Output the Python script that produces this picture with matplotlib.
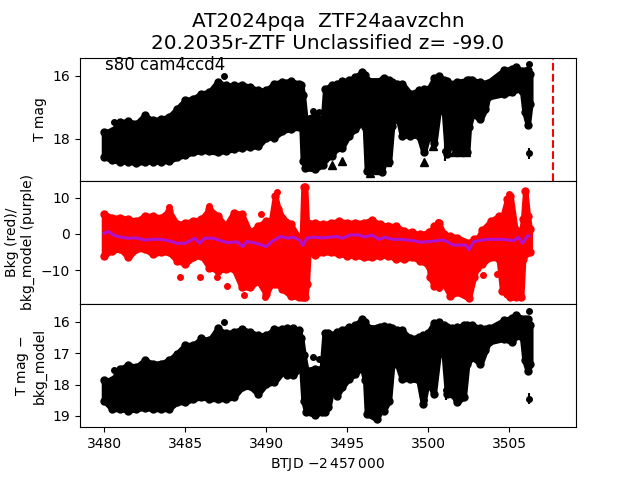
"""Three-panel TESS light curve summary for AT2024pqa."""

import matplotlib

matplotlib.use("Agg")

import matplotlib.pyplot as plt

MAG_DAYS = [3480.0, 3480.5, 3481.0, 3481.5, 3482.0, 3482.5, 3483.0, 3483.5, 3484.0, 3484.5,
            3485.0, 3485.5, 3486.0, 3486.5, 3487.0, 3487.5, 3488.0, 3488.5, 3489.0, 3489.5,
            3490.0, 3490.5, 3491.0, 3491.5,
            3492.0, 3492.16, 3492.26, 3492.41, 3493.0, 3493.5, 3493.64, 3494.05, 3494.36, 3494.67,
            3495.08, 3495.49, 3495.9, 3496.09, 3496.21, 3497.14, 3497.28, 3497.57, 3497.76, 3498.07,
            3498.37, 3498.88, 3499.4, 3499.71, 3500.02, 3500.37, 3500.63, 3500.95, 3501.15, 3501.36,
            3501.77, 3502.39, 3502.49, 3502.7, 3503.21, 3503.52, 3503.66, 3504.65, 3505.16, 3505.39,
            3505.78, 3505.93, 3506.13, 3506.28]
T_BRIGHT = [17.79, 17.74, 17.47, 17.45, 17.52, 17.26, 17.42, 17.37, 17.31, 17.05,
            16.78, 16.73, 16.57, 16.52, 16.20, 16.31, 16.31, 16.29, 16.36, 16.47,
            16.47, 16.25, 16.20, 16.18,
            16.25, 16.31, 16.62, 17.37, 17.26, 17.42, 16.41, 16.31, 16.25, 16.18,
            16.15, 16.04, 15.90, 15.99, 16.15, 16.15, 16.07, 16.15, 16.20, 16.25,
            16.25, 16.57, 16.47, 16.41, 16.41, 16.09, 16.01, 16.15, 16.18, 16.25,
            16.20, 16.15, 16.15, 16.15, 16.20, 16.25, 16.22, 15.83, 15.78, 15.72,
            15.87, 15.87, 15.83, 15.95]
T_FAINT = [18.57, 18.68, 18.72, 18.72, 18.77, 18.72, 18.73, 18.72, 18.70, 18.59,
           18.51, 18.43, 18.38, 18.40, 18.43, 18.38, 18.33, 18.28, 18.25, 18.24,
           17.96, 17.96, 17.75, 17.69,
           17.64, 17.38, 18.70, 18.93, 18.96, 18.83, 18.65, 18.54, 18.28, 18.28,
           17.90, 17.69, 17.48, 17.64, 19.02, 19.04, 18.70, 18.75, 17.58, 17.22,
           17.90, 17.90, 17.90, 18.43, 17.85, 18.12, 17.11, 17.06, 18.49, 18.17,
           18.43, 18.43, 17.64, 17.22, 17.38, 17.06, 16.69, 16.58, 16.53, 16.42,
           16.48, 17.16, 17.55, 16.90]
T_POINT_DAYS = [3480.6, 3487.37, 3492.86, 3493.23, 3499.7, 3499.8, 3500.3, 3501.05, 3502.0, 3506.2, 3506.2]
T_POINT_MAGS = [17.48, 16.00, 17.13, 17.16, 18.30, 17.95, 18.00, 18.40, 18.15, 15.62, 18.46]
T_POINT_ERRS = [0.05, 0.05, 0.05, 0.05, 0.25, 0.20, 0.25, 0.30, 0.25, 0.05, 0.17]
LIMIT_DAYS = [3494.05, 3494.67, 3496.4, 3496.87, 3497.45, 3499.7, 3500.3, 3501.6, 3501.95, 3502.3]
LIMIT_MAGS = [18.83, 18.69, 19.07, 19.00, 18.72, 18.72, 18.22, 18.42, 18.42, 18.42]

BKG_DAYS = [3480.0, 3480.5, 3481.0, 3481.5, 3482.0, 3482.5, 3483.0, 3483.5, 3484.0, 3484.5,
            3485.0, 3485.5, 3486.0, 3486.5, 3487.0, 3487.5, 3488.0, 3488.5, 3489.0, 3489.5,
            3490.0, 3490.3, 3490.55, 3490.75, 3491.0, 3491.5, 3492.0, 3492.2, 3492.3, 3492.4,
            3492.5, 3492.6, 3493.0, 3493.5,
            3494.0, 3494.5, 3495.0, 3495.5, 3496.0, 3496.5, 3497.0, 3497.5, 3498.0, 3498.5,
            3499.0, 3499.5, 3500.02, 3500.12, 3500.33, 3500.64, 3500.95, 3501.36, 3501.77, 3502.49,
            3502.8, 3503.0, 3503.31, 3503.83, 3504.34, 3504.55, 3504.86, 3505.06, 3505.37, 3505.72,
            3505.84, 3505.97, 3506.13, 3506.25]
BKG_HIGH = [5.5, 4.5, 4.5, 4.1, 3.6, 5.0, 5.0, 4.5, 6.4, 2.7,
            3.1, 3.6, 4.1, 6.9, 5.0, 2.2, 5.9, 5.5, 0.4, 2.2,
            3.6, 3.6, 10.6, 7.0, 4.5, 2.7, -1.0, -1.0, 12.9, 12.9,
            3.1, 3.1, 3.1, 2.7,
            3.1, 3.6, 3.1, 3.1, 3.1, 3.9, 2.7, 2.2, 2.2, 0.8,
            0.4, -0.1, 0.4, 0.4, 2.2, 3.1, -0.1, -0.5, -1.0, -2.4,
            -1.5, -1.5, 1.0, 3.5, 5.0, 4.5, 9.6, 10.6, 1.0, 0.4,
            4.0, 11.8, 5.0, 1.3]
BKG_LOW = [-6.0, -4.6, -4.2, -6.5, -4.2, -4.2, -5.6, -5.1, -5.1, -7.4,
           -8.3, -6.5, -6.0, -9.3, -10.2, -9.7, -9.7, -14.8, -14.8, -13.0,
           -16.7, -14.0, -14.0, -14.0, -15.3, -17.1, -17.6, -17.6, -17.6, -17.6,
           -14.0, -5.1, -5.7, -5.1,
           -5.1, -5.6, -6.0, -6.0, -6.5, -6.5, -6.0, -6.0, -6.9, -6.9,
           -6.5, -7.4, -8.8, -12.0, -14.3, -14.3, -13.9, -17.1, -16.2, -17.8,
           -12.0, -9.3, -8.3, -6.5, -6.9, -15.7, -16.7, -17.6, -17.6, -17.6,
           -7.0, -5.6, -5.1, -5.1]
BKG_POINT_DAYS = [3484.7, 3485.9, 3486.95, 3487.6, 3484.0, 3486.45, 3489.7, 3490.65,
                  3488.65, 3489.9, 3500.6, 3500.65, 3503.35, 3504.2, 3505.0, 3505.95]
BKG_POINT_VALUES = [-12.0, -11.8, -11.8, -14.3, 7.4, 7.8, 5.6, 11.5,
                    -16.8, -17.4, 3.3, -15.1, -11.4, -11.2, 11.1, 11.8]

MODEL_DAYS = [3480.0, 3480.27, 3480.58, 3481.0, 3481.5, 3482.0, 3482.5, 3483.0, 3483.5, 3484.0,
              3484.5, 3485.0, 3485.6, 3485.9, 3486.2, 3486.75, 3487.2, 3487.6, 3488.2, 3488.55,
              3488.8, 3489.4, 3490.0, 3490.35, 3490.9, 3491.3, 3491.7, 3492.1, 3492.25, 3492.5,
              3492.9, 3493.5, 3494.35, 3494.67, 3495.2, 3495.7, 3496.1, 3496.5, 3496.95, 3497.35,
              3497.75, 3498.3, 3499.1, 3499.5, 3500.1, 3500.95, 3501.55, 3502.3, 3502.5, 3502.8,
              3503.6, 3504.65, 3505.25, 3505.55, 3505.8, 3506.1, 3506.2]
MODEL_VALUES = [0.2, 0.65, -0.3, -0.9, -1.2, -1.1, -1.7, -1.5, -1.5, -1.9,
                -2.6, -2.6, -1.2, -2.6, -1.2, -1.2, -1.9, -2.4, -2.2, -3.5,
                -2.1, -2.6, -3.5, -2.1, -0.7, -1.2, -0.9, -1.9, -3.2, -1.2,
                -0.9, -1.1, -0.7, -1.2, -0.3, -0.3, -0.9, -0.3, -1.5, -0.9,
                -1.5, -1.5, -1.9, -2.3, -2.1, -1.7, -3.1, -3.1, -4.4, -2.1,
                -1.5, -1.5, -1.9, -0.9, -2.6, -0.6, -0.5]

SUB_DAYS = [3480.0, 3480.5, 3481.0, 3481.5, 3482.0, 3482.5, 3483.0, 3483.5, 3484.0, 3484.5,
            3485.0, 3485.5, 3486.0, 3486.5, 3487.0, 3487.5, 3488.0, 3488.5, 3489.0, 3489.5,
            3490.0, 3490.5, 3491.0, 3491.3,
            3491.68, 3492.0, 3492.16, 3492.3, 3492.47, 3493.0, 3493.43, 3493.6, 3493.84, 3494.05,
            3494.36, 3494.67, 3495.08, 3495.49, 3495.9, 3496.11, 3496.21, 3496.83, 3497.04, 3497.24,
            3497.57, 3497.76, 3498.07, 3498.37, 3498.88, 3499.4, 3499.67, 3499.96, 3500.33, 3500.63,
            3500.95, 3501.15, 3501.46, 3501.77, 3502.18, 3502.39, 3502.7, 3503.21, 3503.52, 3503.72,
            3504.65, 3505.16, 3505.39, 3505.78, 3505.93, 3506.13, 3506.28]
SUB_BRIGHT = [17.86, 17.86, 17.49, 17.38, 17.44, 17.22, 17.33, 17.33, 17.22, 17.01,
              16.74, 16.74, 16.53, 16.59, 16.21, 16.37, 16.32, 16.23, 16.32, 16.43,
              16.43, 16.23, 16.23, 16.20,
              16.21, 16.27, 16.53, 17.06, 17.54, 17.49, 17.49, 16.37, 16.37, 16.43,
              16.32, 16.27, 16.16, 16.11, 15.91, 16.00, 16.16, 16.19, 16.16, 16.13,
              16.16, 16.21, 16.27, 16.27, 16.53, 16.48, 16.43, 16.37, 16.05, 16.00,
              16.11, 16.16, 16.21, 16.16, 16.11, 16.09, 16.11, 16.21, 16.23, 16.21,
              15.95, 15.87, 15.77, 15.90, 15.90, 15.90, 16.10]
SUB_FAINT = [18.51, 18.78, 18.78, 18.83, 18.78, 18.74, 18.78, 18.78, 18.78, 18.56,
             18.56, 18.46, 18.40, 18.46, 18.46, 18.46, 18.40, 18.09, 18.06, 18.30,
             17.98, 17.93, 17.61, 17.68,
             17.71, 17.50, 17.34, 18.51, 18.88, 18.96, 18.88, 18.88, 18.72, 18.14,
             18.35, 18.09, 17.82, 17.66, 17.45, 17.87, 18.94, 19.10, 18.83, 18.83,
             18.51, 17.39, 17.34, 17.82, 17.82, 17.87, 18.62, 17.87, 18.30, 17.02,
             17.02, 18.30, 18.30, 18.56, 18.40, 17.34, 17.13, 17.34, 16.91, 16.65,
             16.54, 16.65, 16.44, 16.49, 17.23, 17.57, 17.34]
SUB_POINT_DAYS = [3480.6, 3487.37, 3492.86, 3493.23, 3499.7, 3499.8, 3500.3, 3501.1, 3501.77, 3502.0, 3506.2, 3506.2]
SUB_POINT_MAGS = [17.54, 16.00, 17.12, 17.20, 18.48, 17.86, 18.05, 18.18, 18.48, 18.25, 15.66, 18.45]
SUB_POINT_ERRS = [0.05, 0.05, 0.05, 0.05, 0.25, 0.20, 0.30, 0.30, 0.20, 0.25, 0.05, 0.17]

EVENT_DAY = 3507.7
X_LIMITS = (3478.52, 3509.1)
MAG_TICKS = [16, 18]
BKG_TICKS = [-10, 0, 10]
SUB_TICKS = [16, 17, 18, 19]


def draw_band(axis, days, upper, lower, color):
    """Draw a saturated point cloud from its two edges."""

    axis.fill_between(days, upper, lower, color=color, linewidth=4)
    axis.plot(days, upper, "o", color=color, ms=5)
    axis.plot(days, lower, "o", color=color, ms=5)


figure, (top, middle, bottom) = plt.subplots(3, 1, sharex=True, figsize=(6.4, 4.8), dpi=100)
figure.subplots_adjust(hspace=0)

draw_band(top, MAG_DAYS, T_BRIGHT, T_FAINT, "black")
top.errorbar(T_POINT_DAYS, T_POINT_MAGS, yerr=T_POINT_ERRS, fmt="o", color="black", ms=4, lw=1.5)
top.plot(LIMIT_DAYS, LIMIT_MAGS, "^", color="black", ms=6)
top.axvline(EVENT_DAY, color="red", ls="--", lw=1.5)
top.set_ylim(19.33, 15.43)
top.set_yticks(MAG_TICKS)
top.set_ylabel("T mag")
top.set_title("AT2024pqa  ZTF24aavzchn\n20.2035r-ZTF Unclassified z= -99.0", fontsize=14.4)
top.text(3480.05, 15.82, "s80 cam4ccd4", fontsize=12)

draw_band(middle, BKG_DAYS, BKG_HIGH, BKG_LOW, "red")
middle.plot(BKG_POINT_DAYS, BKG_POINT_VALUES, "o", color="red", ms=4)
middle.plot(MODEL_DAYS, MODEL_VALUES, color="#b010d0", lw=2.2)
middle.set_ylim(-19.4, 14.7)
middle.set_yticks(BKG_TICKS)
middle.set_ylabel("Bkg (red)/\nbkg_model (purple)")

draw_band(bottom, SUB_DAYS, SUB_BRIGHT, SUB_FAINT, "black")
bottom.errorbar(SUB_POINT_DAYS, SUB_POINT_MAGS, yerr=SUB_POINT_ERRS, fmt="o", color="black", ms=4, lw=1.5)
bottom.set_ylim(19.36, 15.43)
bottom.set_yticks(SUB_TICKS)
bottom.set_ylabel("T mag $-$\nbkg_model")
bottom.set_xlabel(r"BTJD $-2\,457\,000$")

bottom.set_xlim(*X_LIMITS)
for axis in (top, middle):
    axis.tick_params(axis="x", bottom=False, labelbottom=False)

figure.savefig("out.png", dpi=100)
